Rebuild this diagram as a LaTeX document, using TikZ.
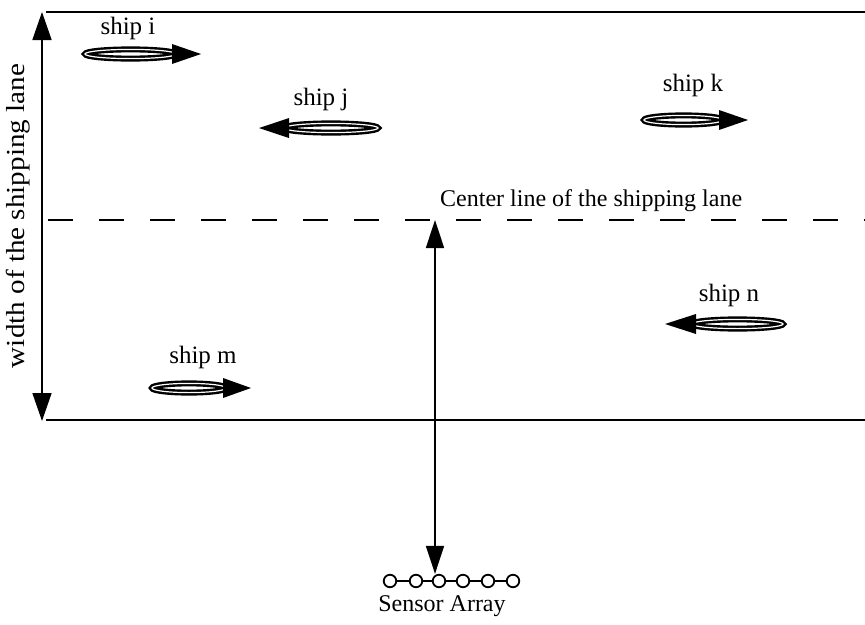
\documentclass[tikz,border=0pt]{standalone}
\usepackage{fontspec}
\setmainfont{Liberation Serif}
\usetikzlibrary{arrows.meta}
\tikzset{
  lane/.style={line width=1.7pt},
  bigtip/.tip={Triangle[length=28pt,width=19pt]},
  hull/.style={line width=2.4pt, double=white, double distance=1.2pt},
  lbl/.style={font=\fontsize{25}{29}\selectfont, inner sep=0pt},
  sensor/.style={circle, draw, line width=1.8pt, fill=white, minimum size=12.5pt, inner sep=0pt},
}
\newcommand\shipbody[3]{\draw[hull] ({(#1+#2)/2},#3) ellipse [x radius={(#2-#1)/2-2}, y radius=4.6];}
\newcommand\shiphead[3]{\fill (#1,#3-10) -- (#2,#3) -- (#1,#3+10) -- cycle;}
\begin{document}
\begin{tikzpicture}[x=1pt,y=-1pt]
\useasboundingbox (0,0) rectangle (865,624);
% lane borders
\coordinate (tl) at (46,12); \coordinate (tr) at (866,12);
\coordinate (bl) at (46,420); \coordinate (br) at (866,420);
\draw[lane] (tl) -- (tr);
\draw[lane] (bl) -- (br);
% width arrow
\coordinate (wa) at (42,12); \coordinate (wb) at (42,421);
\draw[lane, line width=1.6pt, {bigtip}-{bigtip}] (wa) -- (wb);
\node[lbl, font=\fontsize{26}{30}\selectfont, rotate=90, xscale=1.12] (wlabel) at (18,216) {width of the shipping lane};
% center line
\coordinate (cl) at (48,220); \coordinate (cr) at (866,220);
\draw[lane, dash pattern=on 25pt off 26pt] (cl) -- (cr);
\node[lbl, font=\fontsize{24}{28}\selectfont, anchor=south west] (ctext) at (440,212) {Center line of the shipping lane};
% sensor array
\draw[line width=1.6pt] (390,581) -- (513,581);
\node[sensor] (s1) at (390,581) {};
\node[sensor] (s2) at (416,581) {};
\node[sensor] (s3) at (439,581) {};
\node[sensor] (s4) at (463,581) {};
\node[sensor] (s5) at (488,581) {};
\node[sensor] (s6) at (513,581) {};
\coordinate (ca) at (435,220);
\draw[line width=1.6pt, {Triangle[length=28pt,width=18pt]}-{Triangle[length=28pt,width=18pt]}] (ca) -- (s3.north -| ca);
\node[lbl, font=\fontsize{24}{28}\selectfont, anchor=north] (stext) at (442,595) {Sensor Array};
% ships
\shipbody{83}{178}{54}\shiphead{172}{201}{54}
\node[lbl] (li) at (128,28) {ship i};
\shipbody{282}{380}{128}\shiphead{289}{259}{128}
\node[lbl] (lj) at (321,99) {ship j};
\shipbody{642}{725}{120}\shiphead{719}{748}{120}
\node[lbl] (lk) at (693,85) {ship k};
\shipbody{690}{785}{324}\shiphead{696}{665}{324}
\node[lbl] (ln) at (729,295) {ship n};
\shipbody{150}{228}{388}\shiphead{223}{251}{388}
\node[lbl] (lm) at (203,357) {ship m};
\end{tikzpicture}
\end{document}
